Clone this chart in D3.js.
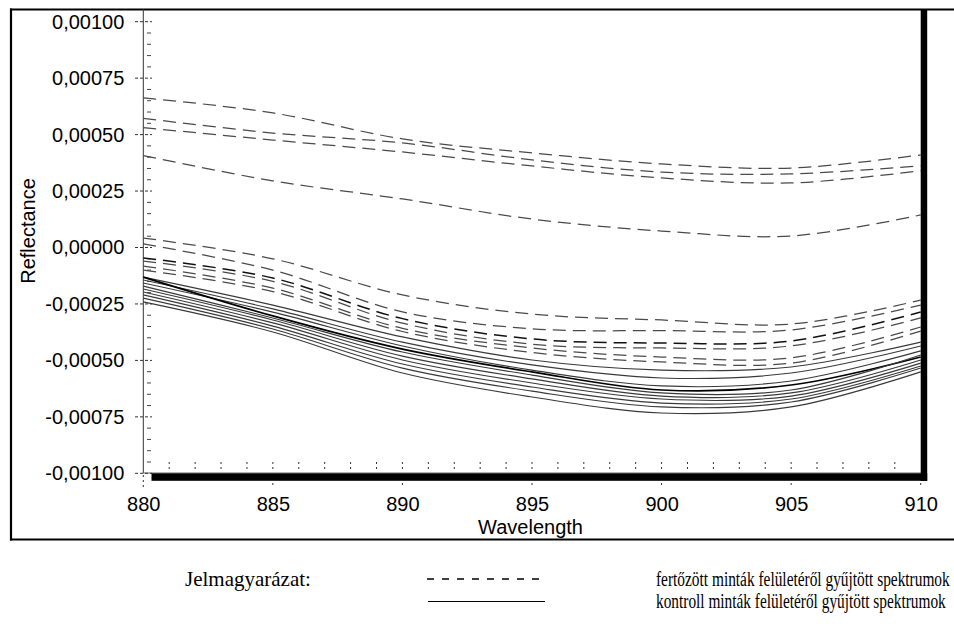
<!DOCTYPE html>
<html><head><meta charset="utf-8">
<script src="https://cdn.jsdelivr.net/npm/d3@7"></script>
<style>body{margin:0;background:#fff;overflow:hidden} svg{display:block}</style>
</head><body>
<svg id="c" width="954" height="624"></svg>
<script>
// ---- data ----
const wavelengths = [880, 885, 890, 895, 900, 905, 910];
// infected samples (dashed)
const infected = [
  [0.000663, 0.000596, 0.000481, 0.000419, 0.000370, 0.000352, 0.000410],
  [0.000572, 0.000507, 0.000463, 0.000388, 0.000334, 0.000326, 0.000362],
  [0.000531, 0.000476, 0.000423, 0.000361, 0.000308, 0.000286, 0.000340],
  [0.000407, 0.000295, 0.000215, 0.000126, 0.000073, 0.000051, 0.000144],
  [0.000042, -0.000050, -0.000210, -0.000295, -0.000321, -0.000339, -0.000233],
  [0.000016, -0.000100, -0.000285, -0.000360, -0.000368, -0.000365, -0.000255],
  [-0.000046, -0.000135, -0.000315, -0.000405, -0.000423, -0.000414, -0.000286],
  [-0.000060, -0.000150, -0.000335, -0.000428, -0.000445, -0.000436, -0.000312],
  [-0.000082, -0.000180, -0.000358, -0.000445, -0.000485, -0.000489, -0.000352],
  [-0.000100, -0.000195, -0.000372, -0.000465, -0.000507, -0.000512, -0.000370]
];
// control samples (solid)
const control = [
  [-0.000131, -0.000255, -0.000396, -0.000498, -0.000543, -0.000529, -0.000419],
  [-0.000144, -0.000272, -0.000419, -0.000520, -0.000578, -0.000556, -0.000436],
  [-0.000157, -0.000286, -0.000436, -0.000543, -0.000613, -0.000591, -0.000458],
  [-0.000131, -0.000303, -0.000450, -0.000551, -0.000631, -0.000609, -0.000485],
  [-0.000171, -0.000312, -0.000463, -0.000565, -0.000644, -0.000631, -0.000476],
  [-0.000184, -0.000321, -0.000481, -0.000582, -0.000658, -0.000644, -0.000498],
  [-0.000197, -0.000334, -0.000498, -0.000600, -0.000671, -0.000658, -0.000512],
  [-0.000210, -0.000348, -0.000516, -0.000618, -0.000689, -0.000671, -0.000525],
  [-0.000224, -0.000361, -0.000534, -0.000636, -0.000706, -0.000684, -0.000534],
  [-0.000241, -0.000374, -0.000556, -0.000662, -0.000733, -0.000706, -0.000551]
];
const darkInfected = 6;   // index of darker dashed curve
const darkControl = 3;    // index of darker solid curve
const yTicks = [0.001, 0.00075, 0.0005, 0.00025, 0, -0.00025, -0.0005, -0.00075, -0.001];
const xTicks = [880, 885, 890, 895, 900, 905, 910];
const xLabel = "Wavelength";
const yLabel = "Reflectance";
const legendTitle = "Jelmagyarázat:";
const legendInfected = "fertőzött minták felületéről gyűjtött spektrumok";
const legendControl = "kontroll minták felületéről gyűjtött spektrumok";

// ---- drawing ----
const svg = d3.select("#c");
const x = d3.scaleLinear().domain([880, 910]).range([143.3, 920.7]);
const y = d3.scaleLinear().domain([-0.001, 0.001]).range([473.3, 21.7]);
const sans = "'Liberation Sans', Arial, sans-serif";
const serif = "'Liberation Serif', 'Times New Roman', serif";

// outer frame
svg.append("line").attr("x1", 10).attr("x2", 954).attr("y1", 9.5).attr("y2", 9.5).attr("stroke", "#000").attr("stroke-width", 2.2);
svg.append("line").attr("x1", 10).attr("x2", 954).attr("y1", 539.5).attr("y2", 539.5).attr("stroke", "#000").attr("stroke-width", 2.2);
svg.append("line").attr("x1", 11).attr("x2", 11).attr("y1", 8.5).attr("y2", 540.5).attr("stroke", "#000").attr("stroke-width", 2.2);

const fmt = v => (v < 0 ? "-" : "") + Math.abs(v).toFixed(5).replace(".", ",");

// y axis labels
const yAxis = svg.append("g").attr("transform", "translate(143.3,0)")
  .call(d3.axisLeft(y).tickValues(yTicks).tickSize(0).tickPadding(19).tickFormat(fmt));
yAxis.select(".domain").remove();
yAxis.selectAll("text").attr("font-family", sans).attr("font-size", 20).attr("fill", "#000");

// x axis labels
const xAxis = svg.append("g").attr("transform", "translate(0,473.3)")
  .call(d3.axisBottom(x).tickValues(xTicks).tickSize(0).tickPadding(24).tickFormat(d3.format("d")));
xAxis.select(".domain").remove();
xAxis.selectAll("text").attr("font-family", sans).attr("font-size", 20).attr("fill", "#000");

// left axis line
svg.append("line").attr("x1", 143.3).attr("x2", 143.3).attr("y1", 9).attr("y2", 473.3).attr("stroke", "#333").attr("stroke-width", 1);
svg.append("line").attr("x1", 143.3).attr("x2", 921).attr("y1", 473).attr("y2", 473).attr("stroke", "#666").attr("stroke-width", 1);

// y major ticks (dotted, crossing axis)
svg.append("g").selectAll("line").data(yTicks).join("line")
  .attr("x1", 135).attr("x2", 152).attr("y1", d => y(d)).attr("y2", d => y(d))
  .attr("stroke", "#333").attr("stroke-width", 1).attr("stroke-dasharray", "3,2");
// y minor ticks
const yMinor = d3.range(-20, 21).map(i => i * 0.00005).filter(v => Math.abs(Math.round(v / 0.00025) * 0.00025 - v) > 1e-9);
svg.append("g").selectAll("line").data(yMinor).join("line")
  .attr("x1", 147).attr("x2", 151).attr("y1", d => y(d)).attr("y2", d => y(d))
  .attr("stroke", "#444").attr("stroke-width", 1);

// x minor ticks (inside, dotted)
const xMinor = d3.range(881, 910);
svg.append("g").selectAll("line").data(xMinor).join("line")
  .attr("x1", d => x(d)).attr("x2", d => x(d)).attr("y1", 462).attr("y2", 471)
  .attr("stroke", "#333").attr("stroke-width", 1).attr("stroke-dasharray", "2,3");
// x major ticks (below)
svg.append("g").selectAll("line").data(xTicks).join("line")
  .attr("x1", d => x(d)).attr("x2", d => x(d)).attr("y1", d => d === 880 ? 475 : 483).attr("y2", 488)
  .attr("stroke", "#333").attr("stroke-width", 1).attr("stroke-dasharray", "2,3");

// curves
const line = d3.line().x((d, i) => x(wavelengths[i])).y(d => y(d)).curve(d3.curveCatmullRom.alpha(0.5));
const plot = svg.append("g");
plot.selectAll("path.ctrl").data(control).join("path").attr("class", "ctrl")
  .attr("d", line).attr("fill", "none")
  .attr("stroke", (d, i) => i === darkControl ? "#000" : "#3a3a3a")
  .attr("stroke-width", (d, i) => i === darkControl ? 1.7 : 1.15);
plot.selectAll("path.inf").data(infected).join("path").attr("class", "inf")
  .attr("d", line).attr("fill", "none")
  .attr("stroke", (d, i) => i === darkInfected ? "#111" : "#4a4a4a")
  .attr("stroke-width", (d, i) => i === darkInfected ? 1.5 : 1.25)
  .attr("stroke-dasharray", "13,7");

// 3D shadow bars
svg.append("rect").attr("x", x(910)).attr("y", 9).attr("width", 6.5).attr("height", 472).attr("fill", "#000");
svg.append("rect").attr("x", 151.5).attr("y", 473.3).attr("width", x(910) + 6.5 - 151.5).attr("height", 7.5).attr("fill", "#000");

// axis titles
svg.append("text").attr("transform", "translate(35,231) rotate(-90)").attr("text-anchor", "middle")
  .attr("font-family", sans).attr("font-size", 20).text(yLabel);
svg.append("text").attr("x", 530.5).attr("y", 534).attr("text-anchor", "middle")
  .attr("font-family", sans).attr("font-size", 20).text(xLabel);

// legend
svg.append("text").attr("x", 185).attr("y", 586).attr("font-family", serif).attr("font-size", 21).text(legendTitle);
svg.append("line").attr("x1", 427).attr("x2", 547).attr("y1", 579).attr("y2", 579)
  .attr("stroke", "#000").attr("stroke-width", 1.3).attr("stroke-dasharray", "7,8");
svg.append("line").attr("x1", 428).attr("x2", 545).attr("y1", 601.5).attr("y2", 601.5)
  .attr("stroke", "#000").attr("stroke-width", 1);

// legend descriptions: horizontally condensed to fit, like the reference
function condensed(txt, x0, y0, target) {
  const t = svg.append("text").attr("x", 0).attr("y", 0)
    .attr("font-family", serif).attr("font-size", 20).text(txt);
  const w = t.node().getComputedTextLength();
  const s = Math.min(1, target / w);
  t.attr("transform", `translate(${x0},${y0}) scale(${s},1)`);
}
condensed(legendInfected, 656, 586, 294);
condensed(legendControl, 656, 608, 290);
</script>
</body></html>
